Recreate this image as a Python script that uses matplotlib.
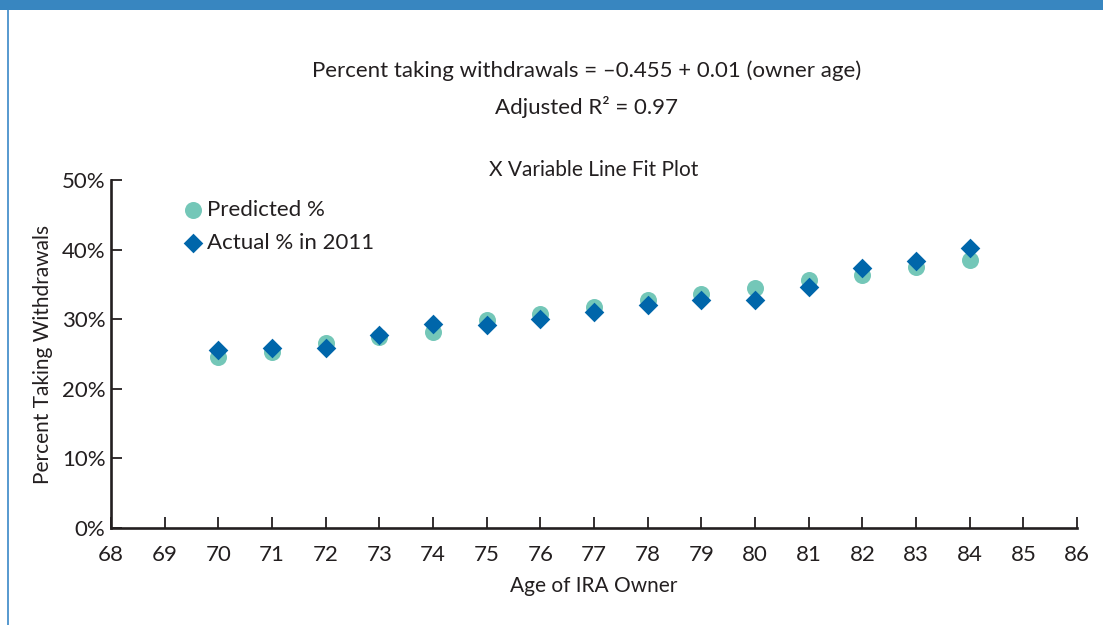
import numpy as np
import matplotlib.pyplot as plt
from matplotlib.patches import Rectangle
from matplotlib.ticker import PercentFormatter

plt.rcParams['font.family'] = ['Lato', 'DejaVu Sans']

ages = [70, 71, 72, 73, 74, 75, 76, 77, 78, 79, 80, 81, 82, 83, 84]
predicted = [24.6, 25.3, 26.6, 27.4, 28.2, 29.9, 30.8, 31.8, 32.8, 33.6, 34.5, 35.7, 36.3, 37.5, 38.5] # percent
actual = [25.6, 25.8, 25.8, 27.8, 29.3, 29.2, 30.0, 31.1, 32.0, 32.7, 32.8, 34.6, 37.3, 38.4, 40.2] # percent
x_ticks = np.arange(68, 87)
y_ticks = [0, 10, 20, 30, 40, 50]

ink = '#231f20'
fig = plt.figure(figsize=(11.03, 6.25), dpi=100)

# frame decoration: blue band on top, thin line at left
fig.add_artist(Rectangle((0, 0.984), 1, 0.016, transform=fig.transFigure, color='#3886c0', lw=0))
fig.add_artist(Rectangle((0.0065, 0), 0.0015, 0.984, transform=fig.transFigure, color='#5a9bd0', lw=0))

ax = fig.add_axes([111/1103, 97/625, 966/1103, 348/625])
ax.scatter(ages, predicted, s=150, marker='o', color='#74c7b8', lw=0, label='Predicted %', zorder=2)
ax.scatter(ages, actual, s=100, marker='D', color='#0066aa', lw=0, label='Actual % in 2011', zorder=3)

ax.set_xlim(68, 86)
ax.set_ylim(0, 50)
ax.set_xticks(x_ticks)
ax.set_yticks(y_ticks)
ax.yaxis.set_major_formatter(PercentFormatter(decimals=0))
for s in ['top', 'right']:
    ax.spines[s].set_visible(False)
for s in ['left', 'bottom']:
    ax.spines[s].set_linewidth(1.9)
    ax.spines[s].set_color(ink)
ax.tick_params(direction='in', length=8, width=1.3, color=ink, labelsize=16, labelcolor=ink)
ax.tick_params(axis='x', pad=12)
ax.tick_params(axis='y', pad=4)

ax.set_xlabel('Age of IRA Owner', fontsize=15, color=ink, labelpad=8)
ax.set_ylabel('Percent Taking Withdrawals', fontsize=15, color=ink, labelpad=6)
ax.set_title('X Variable Line Fit Plot', fontsize=15, color=ink, pad=2)

fig.text(0.532, 0.887, 'Percent taking withdrawals = \u20130.455 + 0.01 (owner age)',
         ha='center', va='center', fontsize=16, color=ink)
fig.text(0.532, 0.829, 'Adjusted R\u00b2 = 0.97', ha='center', va='center', fontsize=16, color=ink)

ax.legend(loc='upper left', bbox_to_anchor=(0.06, 0.98), frameon=False, fontsize=16,
          handlelength=1.0, handletextpad=0.1, labelspacing=0.55, borderaxespad=0.2,
          labelcolor=ink)

fig.savefig('out.png', dpi=100)
